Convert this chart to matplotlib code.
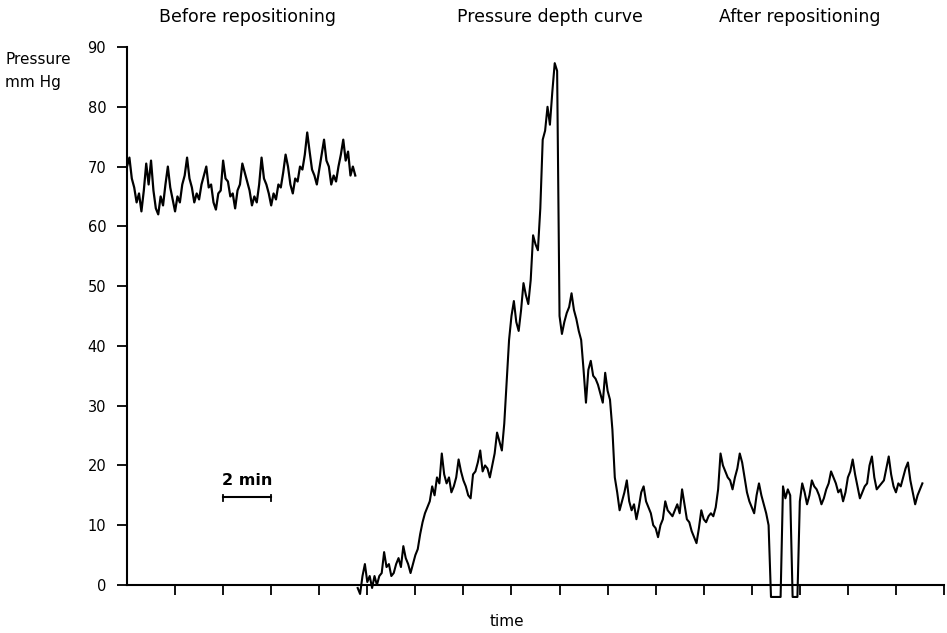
import numpy as np
import matplotlib
matplotlib.use("Agg")
import matplotlib.pyplot as plt

step_min = 0.1

before_start = 0.0
before_mmhg = [
    70, 71.5, 68, 66.5, 64, 65.5, 62.5, 66, 70.5, 67,
    71, 66, 63, 62, 65, 63.5, 67, 70, 66.5, 64.5,
    62.5, 65, 64, 67, 68.5, 71.5, 68, 66.5, 64, 65.5,
    64.5, 67, 68.5, 70, 66.5, 67, 64, 62.8, 65.5, 66,
    71, 68, 67.5, 65, 65.5, 63, 66, 67, 70.5, 69,
    67.5, 66, 63.5, 65, 64, 67, 71.5, 68, 67, 65.5,
    63.5, 65.5, 64.5, 67, 66.5, 69, 72, 70, 67, 65.5,
    68, 67.5, 70, 69.5, 72, 75.7, 72.5, 69.5, 68.5, 67,
    69.5, 72, 74.5, 71, 70, 67, 68.5, 67.5, 70, 72,
    74.5, 71, 72.5, 68.5, 70, 68.5,
]

curve_start = 9.6
curve_mmhg = [
    -0.5, -1.5, 1.5, 3.5, 0.5, 1.5, -0.5, 1.5, 0, 1.5,
    2, 5.5, 3, 3.5, 1.5, 2, 3.5, 4.5, 3, 6.5,
    4.5, 3.5, 2, 3.5, 5, 6, 8.5, 10.5, 12, 13,
    14, 16.5, 15, 18, 17, 22, 18.5, 17, 18, 15.5,
    16.5, 18, 21, 19, 17.5, 16.5, 15, 14.5, 18.5, 19,
    20.5, 22.5, 19, 20, 19.5, 18, 20, 22, 25.5, 24,
    22.5, 27, 34, 41, 45, 47.5, 44, 42.5, 46, 50.5,
    48.5, 47, 51, 58.5, 57, 56, 63, 74.5, 76, 80,
    77, 82.5, 87.3, 86, 45, 42, 44, 45.5, 46.5, 48.8,
    46, 44.5, 42.5, 41, 36, 30.5, 36, 37.5, 35, 34.5,
    33.5, 32, 30.5, 35.5, 32.5, 31, 26, 18, 15.5, 12.5,
    14, 15.5, 17.5, 14, 12.5, 13.5, 11, 13, 15.5, 16.5,
    14, 13, 12, 10, 9.5, 8, 10, 11, 14, 12.5,
    12, 11.5, 12.5, 13.5, 12, 16, 13.5, 11, 10.5, 9,
    8, 7, 9.5, 12.5, 11, 10.5, 11.5, 12, 11.5, 13,
    16, 22, 20, 19, 18, 17.5, 16, 18, 19.5, 22,
    20.5, 18, 15.5, 14, 13, 12, 15, 17, 15, 13.5,
    12, 10, -2, -2, -2, -2, -2, 16.5, 14.5, 16,
    15, -2, -2, -2, 14, 17, 15.5, 13.5, 15, 17.5,
    16.5, 16, 15, 13.5, 14.5, 16, 17, 19, 18, 17,
    15.5, 16, 14, 15.5, 18, 19, 21, 18.5, 16.5, 14.5,
    15.5, 16.5, 17, 20, 21.5, 18, 16, 16.5, 17, 17.5,
    19.5, 21.5, 18.5, 16.5, 15.5, 17, 16.5, 18, 19.5, 20.5,
    17.5, 15.5, 13.5, 15, 16, 17,
]

section_titles = ["Before repositioning", "Pressure depth curve", "After repositioning"]
section_x = [5.0, 17.6, 28.0]
y_ticks = [0, 10, 20, 30, 40, 50, 60, 70, 80, 90]
x_ticks = np.arange(2, 35, 2)

t_before = before_start + step_min * np.arange(len(before_mmhg))
t_curve = curve_start + step_min * np.arange(len(curve_mmhg))

fig = plt.figure(figsize=(9.47, 6.33), dpi=100)
ax = fig.add_axes([127 / 947, 48 / 633, 817 / 947, 538 / 633])

ax.plot(t_before, before_mmhg, color="black", lw=1.6, clip_on=False)
ax.plot(t_curve, curve_mmhg, color="black", lw=1.5, clip_on=False)

ax.set_xlim(0, 34)
ax.set_ylim(0, 90)
ax.set_yticks(y_ticks)
ax.set_xticks(x_ticks)
ax.set_xticklabels([])
ax.tick_params(axis="both", direction="out", length=7, width=1.3, labelsize=10.5)
ax.tick_params(axis="y", pad=8)
for s in ["top", "right"]:
    ax.spines[s].set_visible(False)
for s in ["left", "bottom"]:
    ax.spines[s].set_linewidth(1.5)

# scale bar
ax.plot([4, 6], [14.7, 14.7], color="black", lw=1.5)
ax.plot([4, 4], [14.0, 15.0], color="black", lw=1.3)
ax.plot([6, 6], [14.0, 15.0], color="black", lw=1.3)
ax.text(5, 16.2, "2 min", ha="center", va="bottom", fontsize=11.5, fontweight="bold")

for name, xc in zip(section_titles, section_x):
    ax.text(xc, 95.0, name, ha="center", va="center", fontsize=12.5, clip_on=False)

fig.text(5 / 947, 1 - 60 / 633, "Pressure", ha="left", va="center", fontsize=11)
fig.text(5 / 947, 1 - 82 / 633, "mm Hg", ha="left", va="center", fontsize=11)
fig.text(507 / 947, 1 - 622 / 633, "time", ha="center", va="center", fontsize=11)

fig.savefig("out.png", dpi=100)
